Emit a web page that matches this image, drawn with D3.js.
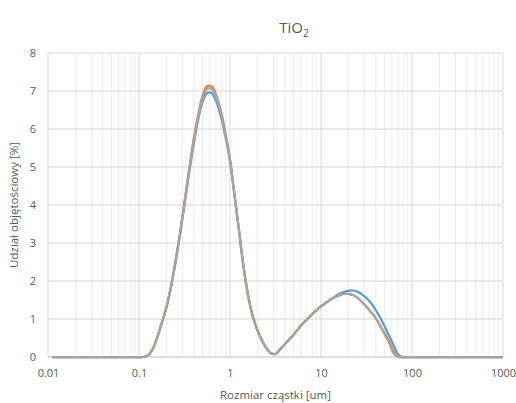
<!DOCTYPE html>
<html><head><meta charset="utf-8">
<script src="https://cdn.jsdelivr.net/npm/d3@7"></script>
<style>body{margin:0;background:#fff}svg{display:block}</style>
</head><body>
<script>
const sizes = [0.0112,0.1,0.112,0.126,0.141,0.158,0.178,0.2,0.224,0.251,0.282,0.316,0.355,0.398,0.447,0.501,0.562,0.631,0.708,0.794,0.891,1,1.122,1.259,1.413,1.585,1.778,1.995,2.239,2.512,2.818,3.162,3.548,3.981,4.467,5.012,5.623,6.31,7.079,7.943,8.913,10,11.22,12.59,14.13,15.85,17.78,19.95,22.39,25.12,28.18,31.62,35.48,39.81,44.67,50.12,56.23,63.1,70.79,79.43,100,1000];
const blue   = [0,0,0,0.05,0.2,0.5,0.9,1.3,1.83,2.47,3.2,4.0,4.83,5.58,6.25,6.72,6.95,6.94,6.72,6.33,5.8,5.15,4.24,3.3,2.35,1.6,1.07,0.71,0.44,0.23,0.1,0.08,0.2,0.33,0.46,0.59,0.74,0.88,1.0,1.12,1.23,1.33,1.42,1.51,1.59,1.66,1.71,1.74,1.75,1.72,1.65,1.55,1.42,1.24,1.04,0.8,0.55,0.3,0.06,0,0,0];
const orange = [0,0,0,0.05,0.2,0.5,0.9,1.31,1.84,2.5,3.26,4.08,4.93,5.72,6.38,6.88,7.13,7.12,6.88,6.47,5.9,5.2,4.27,3.32,2.36,1.61,1.08,0.72,0.44,0.23,0.1,0.08,0.2,0.33,0.46,0.59,0.74,0.88,1.0,1.12,1.23,1.33,1.42,1.5,1.57,1.62,1.66,1.66,1.63,1.56,1.45,1.32,1.18,1.03,0.82,0.6,0.37,0.1,0,0,0,0];
const gray   = [0,0,0,0.05,0.2,0.5,0.9,1.3,1.83,2.48,3.23,4.04,4.88,5.66,6.33,6.82,7.06,7.05,6.82,6.42,5.86,5.18,4.26,3.31,2.35,1.6,1.07,0.71,0.44,0.23,0.1,0.08,0.2,0.33,0.46,0.59,0.74,0.88,1.0,1.12,1.23,1.33,1.42,1.5,1.57,1.62,1.66,1.66,1.63,1.56,1.45,1.32,1.18,1.03,0.82,0.63,0.42,0.18,0,0,0,0];
const xTicks = [0.01,0.1,1,10,100,1000];
const xTickLabels = ["0.01","0.1","1","10","100","1000"];
const yTicks = [0,1,2,3,4,5,6,7,8];
const seriesNames = ["blue","orange","gray"];
const seriesColors = ["#5b9bd5","#ed7d31","#a5a5a5"];

const W = 516, H = 403;
const m = {l:48, r:13, t:53, b:46};
const svg = d3.select("body").append("svg").attr("width",W).attr("height",H);
const x = d3.scaleLog().domain([0.01,1000]).range([m.l, W-m.r]);
const y = d3.scaleLinear().domain([0,8]).range([H-m.b, m.t]);
const font = "'Open Sans', sans-serif";
const tc = "#595959";

const minors = [];
for (let e=-2; e<3; e++) for (let k=2;k<=9;k++) minors.push(k*Math.pow(10,e));
svg.append("g").selectAll("line").data(minors).join("line")
  .attr("x1",d=>x(d)).attr("x2",d=>x(d)).attr("y1",y(0)).attr("y2",y(8))
  .attr("stroke","#ececec").attr("stroke-width",1);
svg.append("g").selectAll("line").data(xTicks).join("line")
  .attr("x1",d=>x(d)).attr("x2",d=>x(d)).attr("y1",y(0)).attr("y2",y(8))
  .attr("stroke","#d9d9d9").attr("stroke-width",1);
svg.append("g").selectAll("line").data(yTicks).join("line")
  .attr("x1",x(0.01)).attr("x2",x(1000)).attr("y1",d=>y(d)).attr("y2",d=>y(d))
  .attr("stroke",d=>d===0?"#bfbfbf":"#d9d9d9").attr("stroke-width",1);

const xAxis = d3.axisBottom(x).tickValues(xTicks).tickFormat((d,i)=>xTickLabels[i]).tickSize(0).tickPadding(12);
const gx = svg.append("g").attr("transform",`translate(0,${y(0)})`).call(xAxis);
gx.select(".domain").remove();
gx.selectAll("text").attr("fill",tc).style("font-family",font).style("font-size","11px");
const yAxis = d3.axisLeft(y).tickValues(yTicks).tickFormat(d3.format("d")).tickSize(0).tickPadding(12);
const gy = svg.append("g").attr("transform",`translate(${x(0.01)},0)`).call(yAxis);
gy.select(".domain").remove();
gy.selectAll("text").attr("fill",tc).style("font-family",font).style("font-size","11px");

const data = [blue, orange, gray];
const line = d3.line().x((d,i)=>x(sizes[i])).y(d=>Math.min(y(d), y(0))).curve(d3.curveCatmullRom.alpha(0.5));
data.forEach((s,j)=>{
  svg.append("path").datum(s).attr("d",line).attr("fill","none")
    .attr("stroke",seriesColors[j]).attr("stroke-width",2.25).attr("stroke-linejoin","round");
});

const t = svg.append("text").attr("x",294).attr("y",33).attr("text-anchor","middle")
  .attr("fill",tc).style("font-family",font).style("font-size","15px");
t.append("tspan").text("TiO");
t.append("tspan").attr("dy",4).style("font-size","10px").text("2");

svg.append("text").attr("x",(x(0.01)+x(1000))/2).attr("y",399).attr("text-anchor","middle")
  .attr("fill",tc).style("font-family",font).style("font-size","11.5px").text("Rozmiar cząstki [um]");
svg.append("text").attr("transform",`translate(18,${(y(0)+y(8))/2}) rotate(-90)`).attr("text-anchor","middle")
  .attr("fill",tc).style("font-family",font).style("font-size","11.5px").text("Udział objętościowy [%]");
</script>
</body></html>
